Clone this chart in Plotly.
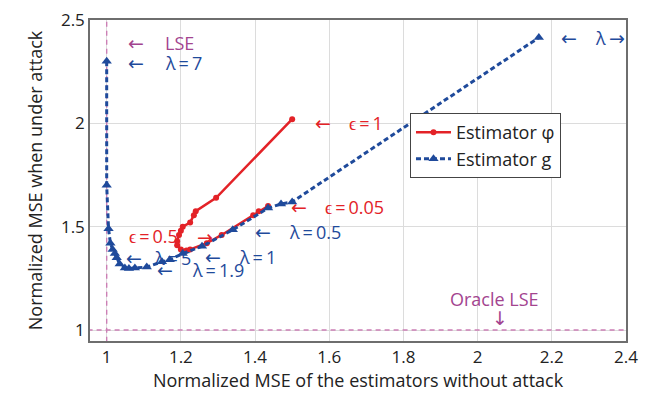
import plotly.graph_objects as go

# Estimator g (lambda sweep)
g_x = [1.0, 1.0, 1.005, 1.01, 1.016, 1.022, 1.027, 1.035, 1.049, 1.06, 1.076, 1.108,
       1.149, 1.17, 1.205, 1.257, 1.34, 1.435, 1.47, 1.50, 2.165]
g_y = [2.30, 1.70, 1.49, 1.42, 1.39, 1.37, 1.35, 1.32, 1.30, 1.298, 1.30, 1.305,
       1.33, 1.34, 1.37, 1.405, 1.485, 1.59, 1.61, 1.62, 2.415]

# Estimator phi (epsilon sweep)
p_x = [1.50, 1.295, 1.24, 1.235, 1.225, 1.205, 1.20, 1.195, 1.19, 1.19, 1.20, 1.215,
       1.225, 1.27, 1.31, 1.395, 1.41, 1.435]
p_y = [2.02, 1.64, 1.575, 1.555, 1.52, 1.50, 1.48, 1.46, 1.43, 1.41, 1.39, 1.385,
       1.39, 1.42, 1.46, 1.555, 1.575, 1.60]

x_ticks = [1, 1.2, 1.4, 1.6, 1.8, 2, 2.2, 2.4]
y_ticks = [1, 1.5, 2, 2.5]

RED = "#e32227"
BLUE = "#1f4a9b"
PURPLE = "#a3448f"
PURPLE_LINE = "#cc7fb5"
FONT = "Open Sans"
ARROW_FONT = "DejaVu Sans"
TS = "\u2009"

fig = go.Figure()

# reference lines (LSE / oracle LSE)
fig.add_trace(go.Scatter(x=[1, 1], y=[0.9, 2.6], mode="lines",
                         line=dict(color=PURPLE_LINE, width=1.4, dash="5px,4px"),
                         showlegend=False, hoverinfo="skip"))
fig.add_trace(go.Scatter(x=[0.9, 2.5], y=[1, 1], mode="lines",
                         line=dict(color=PURPLE_LINE, width=1.4, dash="5px,4px"),
                         showlegend=False, hoverinfo="skip"))

fig.add_trace(go.Scatter(x=p_x, y=p_y, mode="lines+markers", name="Estimator φ",
                         line=dict(color=RED, width=2.5),
                         marker=dict(symbol="circle", size=6, color=RED)))
fig.add_trace(go.Scatter(x=g_x, y=g_y, mode="lines+markers", name="Estimator g",
                         line=dict(color=BLUE, width=3, dash="5px,3px"),
                         marker=dict(symbol="triangle-up", size=9, color=BLUE)))

# arrows: (glyph, x center, y, colour)
arrows = [
    ("←", 1.0795, 2.389, PURPLE),
    ("←", 1.0795, 2.292, BLUE),
    ("←", 1.5836, 2.003, RED),
    ("←", 2.245, 2.413, BLUE),
    ("→", 2.377, 2.413, BLUE),
    ("←", 1.5175, 1.593, RED),
    ("←", 1.4218, 1.4725, BLUE),
    ("→", 1.264, 1.448, RED),
    ("←", 1.0728, 1.347, BLUE),
    ("←", 1.287, 1.352, BLUE),
    ("←", 1.156, 1.289, BLUE),
    ("↓", 2.059, 1.058, PURPLE),
]
for g, ax_, ay_, col in arrows:
    fig.add_annotation(x=ax_, y=ay_, text=g, showarrow=False, xanchor="center",
                       yanchor="middle", font=dict(family=ARROW_FONT, size=19, color=col))

# labels: (text, x left, y, colour)
labels = [
    ("LSE", 1.151, 2.389, PURPLE),
    (f"λ{TS}={TS}7", 1.151, 2.292, BLUE),
    (f"ϵ{TS}={TS}1", 1.647, 2.003, RED),
    ("λ", 2.310, 2.413, BLUE),
    (f"ϵ{TS}={TS}0.05", 1.582, 1.593, RED),
    (f"λ{TS}={TS}0.5", 1.485, 1.4725, BLUE),
    (f"ϵ{TS}={TS}0.5", 1.0539, 1.453, RED),
    (f"λ{TS}={TS}5", 1.1213, 1.347, BLUE),
    (f"λ{TS}={TS}1", 1.350, 1.352, BLUE),
    (f"λ{TS}={TS}1.9", 1.224, 1.289, BLUE),
    ("Oracle LSE", 1.919, 1.150, PURPLE),
]
for txt, ax_, ay_, col in labels:
    fig.add_annotation(x=ax_, y=ay_, text=txt, showarrow=False, xanchor="left",
                       yanchor="middle", font=dict(family=FONT, size=18, color=col))

axis_common = dict(showgrid=True, gridcolor="#dcdcdc", gridwidth=1, zeroline=False,
                   showline=True, linecolor="#6e6e6e", linewidth=1.5, mirror=True,
                   ticks="", automargin=False, ticklabeloverflow="allow",
                   tickfont=dict(family=FONT, size=17, color="#222"))

fig.update_xaxes(range=[0.955, 2.4], tickvals=x_ticks,
                 ticktext=[f"{v:g}" for v in x_ticks],
                 title=dict(text="Normalized MSE of the estimators without attack",
                            font=dict(family=FONT, size=18, color="#222"), standoff=4),
                 **axis_common)
fig.update_yaxes(range=[0.947, 2.5], tickvals=y_ticks,
                 ticktext=[f"{v:g}" for v in y_ticks],
                 title=dict(text="Normalized MSE when under attack",
                            font=dict(family=FONT, size=18, color="#222"), standoff=14),
                 **axis_common)

fig.update_layout(
    width=646, height=386,
    margin=dict(l=82, r=28, t=12, b=53, autoexpand=False),
    plot_bgcolor="white", paper_bgcolor="white",
    font=dict(family=FONT),
    legend=dict(x=0.597, y=0.71, xanchor="left", yanchor="top",
                bgcolor="white", bordercolor="#444", borderwidth=1,
                font=dict(family=FONT, size=18, color="#222"),
                tracegroupgap=0, itemwidth=35),
)

fig.write_html("out.html")
